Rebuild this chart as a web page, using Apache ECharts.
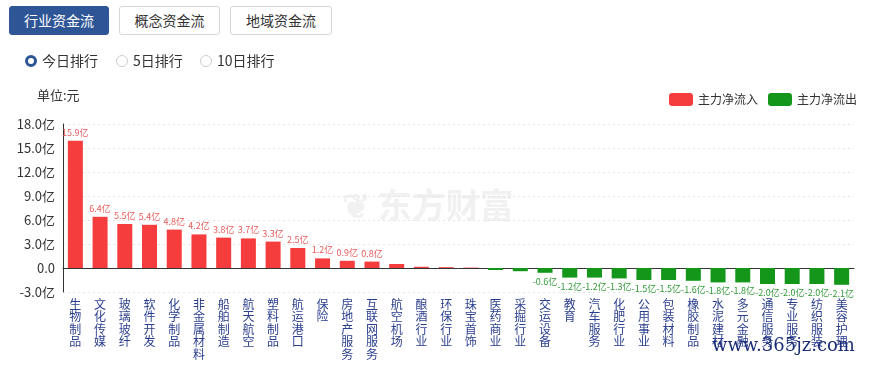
<!DOCTYPE html>
<html><head><meta charset="utf-8">
<script src="https://cdn.jsdelivr.net/npm/echarts@6/dist/echarts.min.js"></script>
<style>
html,body{margin:0;padding:0;background:#fff;width:873px;height:367px;overflow:hidden;font-family:"Noto Sans CJK SC","Noto Sans",sans-serif;}
#chart{position:absolute;left:0;top:0;width:873px;height:367px;}
.btn{position:absolute;top:6px;line-height:27px;text-align:center;font-size:14px;border:1px solid #d6d6d6;border-radius:3px;color:#333;background:#fff;box-sizing:border-box;height:29px;}
.btn.on{background:#2e5596;border-color:#2e5596;color:#fff;}
.radio{position:absolute;top:51px;font-size:14px;color:#333;line-height:18px;}
.radio i{display:inline-block;width:10px;height:10px;border-radius:50%;border:1px solid #ccc;vertical-align:-1px;margin-right:5px;box-sizing:content-box;}
.radio.on i{border:3px solid #2e5596;width:6px;height:6px;}
</style></head>
<body>
<div id="chart"></div>
<div class="btn on" style="left:9px;width:100px;">行业资金流</div>
<div class="btn" style="left:119px;width:101px;">概念资金流</div>
<div class="btn" style="left:230px;width:102px;">地域资金流</div>
<div class="radio on" style="left:25px;"><i></i>今日排行</div>
<div class="radio" style="left:116px;"><i></i>5日排行</div>
<div class="radio" style="left:200px;"><i></i>10日排行</div>
<script>
var categories = ["生物制品","文化传媒","玻璃玻纤","软件开发","化学制品","非金属材料","船舶制造","航天航空","塑料制品","航运港口","保险","房地产服务","互联网服务","航空机场","酿酒行业","环保行业","珠宝首饰","医药商业","采掘行业","交运设备","教育","汽车服务","化肥行业","公用事业","包装材料","橡胶制品","水泥建材","多元金融","通信服务","专业服务","纺织服装","美容护理"];
var values = [15.9,6.4,5.5,5.4,4.8,4.2,3.8,3.7,3.3,2.5,1.2,0.9,0.8,0.5,0.15,0.1,0.05,-0.25,-0.4,-0.6,-1.2,-1.2,-1.3,-1.5,-1.5,-1.6,-1.8,-1.8,-2.0,-2.0,-2.0,-2.1];
var yTicks = [-3,0,3,6,9,12,15,18];
var labeledTop = 13, labeledBottom = 13;

var inflow = values.map(function(v){return v>0?v:null;});
var outflow = values.map(function(v){return v<0?v:null;});
var n = values.length;
function showLabel(i){return i<labeledTop || i>=n-labeledBottom;}

var chart = echarts.init(document.getElementById('chart'));
chart.setOption({
  animation:false,
  textStyle:{fontFamily:'"Noto Sans CJK SC","Noto Sans",sans-serif'},
  legend:{
    right:11, top:88, itemWidth:24, itemHeight:13, itemGap:10, icon:'roundRect',
    textStyle:{fontSize:12,color:'#333'},
    data:['主力净流入','主力净流出']
  },
  grid:{left:63,right:19,top:124,bottom:75},
  graphic:[
    {type:'text',left:37,top:89,style:{text:'单位:元',fill:'#333',font:'13px "Noto Sans CJK SC"'}},
    {type:'text',left:342,top:188,z:-1,style:{text:'❦ 东方财富',fill:'#f1f1f1',font:'bold 34px "Noto Sans CJK SC"'}},
    {type:'text',left:712,top:337,z:10,style:{text:'www.365jz.com',fill:'#1c2d78',font:'18px "DejaVu Serif", serif'}}
  ],
  xAxis:[{
    type:'category', data:categories, position:'bottom',
    axisLine:{show:false,onZero:false}, axisTick:{show:false},
    axisLabel:{interval:0, margin:6, color:'#2b3f8e', fontSize:12, lineHeight:12.5,
      formatter:function(v){return v.split('').join('\n');}}
  },{
    type:'category', data:categories, position:'bottom',
    axisLine:{show:true,onZero:true,lineStyle:{color:'#333',width:1}},
    axisTick:{show:false}, axisLabel:{show:false}
  }],
  yAxis:{
    type:'value', min:yTicks[0], max:yTicks[yTicks.length-1], interval:3,
    axisLine:{show:true,lineStyle:{color:'#333'}}, axisTick:{show:false},
    axisLabel:{color:'#333',fontSize:13,margin:8,
      formatter:function(v){return v===0?'0.0':v.toFixed(1)+'亿';}},
    splitLine:{show:true,lineStyle:{type:[2,3],color:'#e3e3e3'}}
  },
  series:[{
    name:'主力净流入', type:'bar', stack:'s', data:inflow, barWidth:15,
    itemStyle:{color:'#f53d3d'},
    label:{show:true,position:'top',distance:4,fontSize:9,color:'#e85a5a',
      formatter:function(p){return showLabel(p.dataIndex)?p.value.toFixed(1)+'亿':'';}}
  },{
    name:'主力净流出', type:'bar', stack:'s', data:outflow, barWidth:15,
    itemStyle:{color:'#13961a'},
    label:{show:true,position:'bottom',distance:4,fontSize:9,color:'#2f9a36',
      formatter:function(p){return showLabel(p.dataIndex)?p.value.toFixed(1)+'亿':'';}}
  }]
});
</script>
</body></html>
